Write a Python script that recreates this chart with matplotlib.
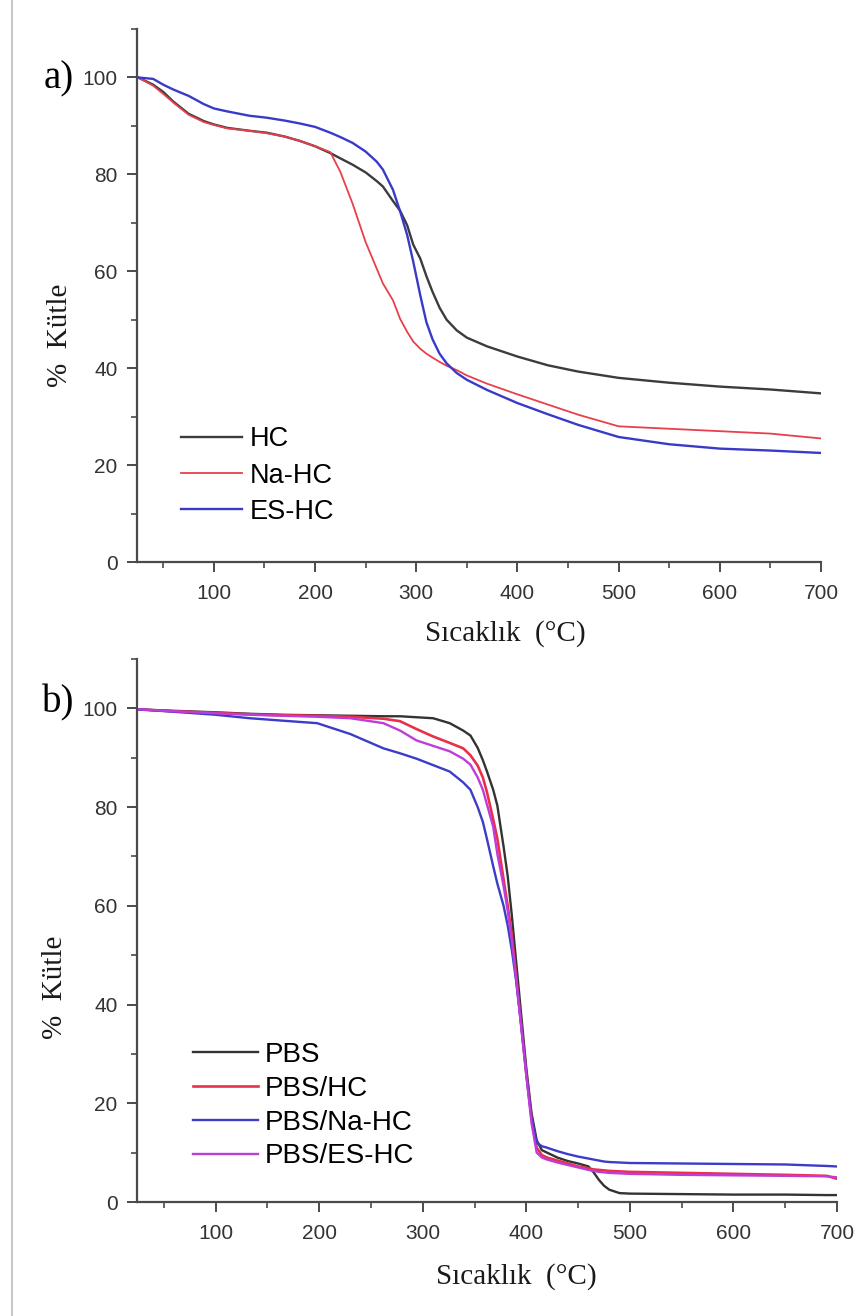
import matplotlib
matplotlib.use("Agg")
import matplotlib.pyplot as plt
from matplotlib.lines import Line2D
from matplotlib.ticker import MultipleLocator

# ---------------- data: panel a ----------------
temp_a = [25, 40, 50, 60, 75, 90, 100, 113, 135, 152, 170, 185, 200, 215, 225, 237,
          250, 261, 267, 277, 284, 291, 297, 304, 310, 316, 323, 330, 340, 350, 370,
          400, 430, 460, 500, 550, 600, 650, 700]
hc = [100, 98.5, 97, 95, 92.5, 91, 90.3, 89.6, 89, 88.6, 87.8, 86.9, 85.8, 84.4, 83.3, 82,
      80.4, 78.6, 77.5, 74.5, 72.5, 69.5, 65.5, 62.6, 59, 55.8, 52.5, 50, 47.8, 46.3, 44.5,
      42.4, 40.6, 39.3, 38, 37, 36.2, 35.6, 34.8]
na_hc = [100, 98.3, 96.6, 94.8, 92.3, 90.8, 90.2, 89.5, 89, 88.5, 87.8, 86.9, 85.8, 84.6, 80.5, 74,
         66, 60.5, 57.5, 54, 50.2, 47.5, 45.5, 44, 43, 42.2, 41.3, 40.5, 39.6, 38.5, 36.8,
         34.6, 32.5, 30.4, 28, 27.5, 27, 26.5, 25.5]
es_hc = [100, 99.7, 98.5, 97.5, 96.2, 94.5, 93.6, 93, 92.1, 91.7, 91.1, 90.5, 89.8, 88.6, 87.7, 86.5,
         84.7, 82.6, 81, 76.8, 72.4, 67.5, 62, 55, 49.5, 46, 43, 41, 39, 37.6, 35.5,
         32.8, 30.5, 28.3, 25.8, 24.3, 23.4, 23, 22.5]
labels_a = ["HC", "Na-HC", "ES-HC"]

# ---------------- data: panel b ----------------
temp_b = [25, 60, 100, 133, 165, 198, 230, 262, 278, 294, 310, 326, 339, 346, 353, 358, 362,
          368, 372, 378, 382, 386, 390, 395, 400, 405, 410, 415, 420, 430, 440, 450, 460,
          465, 470, 475, 480, 490, 500, 550, 600, 650, 690, 700]
pbs = [99.8, 99.5, 99.2, 98.9, 98.7, 98.6, 98.5, 98.4, 98.4, 98.2, 98, 97, 95.5, 94.5, 92, 89.5, 87.2,
       83.5, 80.3, 72, 66, 58, 49, 38, 27, 18, 12.5, 10.5, 10, 9, 8.3, 7.8, 7.2,
       6, 4.5, 3.3, 2.5, 1.8, 1.7, 1.6, 1.5, 1.5, 1.4, 1.4]
pbs_hc = [99.8, 99.4, 99.1, 98.8, 98.6, 98.5, 98.3, 97.9, 97.4, 95.8, 94.3, 93, 91.9, 90.5, 88.4, 86, 83,
          77.5, 73.6, 65.4, 60, 54, 46, 36, 26, 17, 11, 9.5, 9, 8.4, 7.8, 7.2, 6.8,
          6.6, 6.5, 6.4, 6.3, 6.2, 6.1, 5.9, 5.7, 5.5, 5.3, 4.7]
pbs_na_hc = [99.8, 99.3, 98.7, 98, 97.5, 97, 94.8, 91.9, 90.9, 89.8, 88.5, 87.2, 85, 83.5, 80, 77, 73.5,
             68, 64.5, 60, 56, 51, 45, 36, 26, 17, 12, 11.3, 11, 10.3, 9.7, 9.2, 8.8,
             8.6, 8.4, 8.2, 8.1, 8, 7.9, 7.8, 7.7, 7.6, 7.3, 7.2]
pbs_es_hc = [99.8, 99.4, 99, 98.7, 98.5, 98.3, 98, 97, 95.5, 93.5, 92.4, 91.3, 89.8, 88.6, 86, 83.5, 80.5,
             76, 70.5, 64, 59, 53, 45.5, 35.5, 25.5, 16, 10, 9, 8.6, 8, 7.5, 7, 6.5,
             6.3, 6.1, 6, 5.9, 5.8, 5.7, 5.5, 5.4, 5.3, 5.2, 5.0]
labels_b = ["PBS", "PBS/HC", "PBS/Na-HC", "PBS/ES-HC"]

x_ticks = [100, 200, 300, 400, 500, 600, 700]
y_ticks = [0, 20, 40, 60, 80, 100]

W, H = 857, 1316
fig = plt.figure(figsize=(W / 100, H / 100), dpi=100)

def box(l, t, r, b):
    return [l / W, 1 - b / H, (r - l) / W, (b - t) / H]

ax_a = fig.add_axes(box(137, 29, 821, 562))
ax_b = fig.add_axes(box(137, 659, 837, 1202))

sans = "Liberation Sans"
serif = "Liberation Serif"
spine_c = "#4a4a4a"
tick_c = "#333333"

def style(ax):
    ax.set_xlim(24, 700)
    ax.set_ylim(0, 110)
    for s in ("top", "right"):
        ax.spines[s].set_visible(False)
    for s in ("left", "bottom"):
        ax.spines[s].set_color(spine_c)
        ax.spines[s].set_linewidth(1.6)
    ax.set_xticks(x_ticks)
    ax.set_yticks(y_ticks)
    ax.xaxis.set_minor_locator(MultipleLocator(50))
    ax.yaxis.set_minor_locator(MultipleLocator(10))
    ax.tick_params(which="major", direction="out", length=7, width=1.4, color=spine_c,
                   labelsize=15, labelcolor=tick_c, pad=7)
    ax.tick_params(axis="x", which="major", pad=9)
    ax.tick_params(which="minor", direction="out", length=4, width=1.2, color=spine_c)
    for lab in ax.get_xticklabels() + ax.get_yticklabels():
        lab.set_fontfamily(sans)
    ax.set_xlabel("Sıcaklık  (°C)", family=serif, fontsize=21, color="#1a1a1a")
    ax.set_ylabel("%  Kütle", family=serif, fontsize=21, color="#1a1a1a")

# panel a
ax_a.plot(temp_a, hc, color="#3c3c3c", lw=1.7, label=labels_a[0])
ax_a.plot(temp_a, na_hc, color="#e8404a", lw=1.3, label=labels_a[1])
ax_a.plot(temp_a, es_hc, color="#3a3ac8", lw=1.7, label=labels_a[2])
style(ax_a)
ax_a.xaxis.set_label_coords((505 - 137) / (821 - 137), -(620 - 562) / 533)
ax_a.yaxis.set_label_coords(-(137 - 73) / 684, (562 - 335) / 533)
ax_a.legend(loc="upper left", bbox_to_anchor=(0.045, 0.28), frameon=False,
            prop={"family": sans, "size": 19.5}, handlelength=2.25, handletextpad=0.28,
            labelspacing=0.38, borderpad=0)

# panel b
ax_b.plot(temp_b, pbs, color="#333333", lw=1.7, label=labels_b[0])
ax_b.plot(temp_b, pbs_hc, color="#e8304a", lw=1.9, label=labels_b[1])
ax_b.plot(temp_b, pbs_na_hc, color="#3c3cc8", lw=1.7, label=labels_b[2])
ax_b.plot(temp_b, pbs_es_hc, color="#c03cd8", lw=1.7, label=labels_b[3])
style(ax_b)
ax_b.xaxis.set_label_coords((516 - 137) / 700, -(1263 - 1202) / 543)
ax_b.yaxis.set_label_coords(-(137 - 68) / 700, (1202 - 987) / 543)
ax_b.legend(loc="upper left", bbox_to_anchor=(0.06, 0.32), frameon=False,
            prop={"family": sans, "size": 20}, handlelength=2.35, handletextpad=0.25,
            labelspacing=0.28, borderpad=0)

# panel letters
fig.text(59 / W, 1 - 79 / H, "a)", family=serif, fontsize=28, ha="center", va="center")
fig.text(58 / W, 1 - 703 / H, "b)", family=serif, fontsize=28, ha="center", va="center")

# page border line on the left
fig.add_artist(Line2D([12 / W, 12 / W], [0, 1], transform=fig.transFigure,
                      color="#c8c8c8", lw=1.5))

fig.savefig("out.png", dpi=100)
